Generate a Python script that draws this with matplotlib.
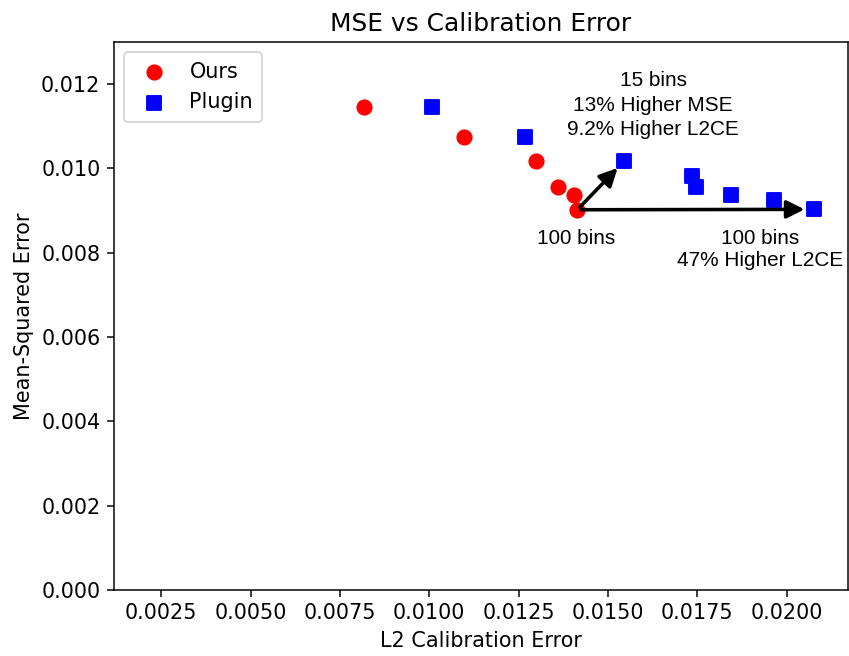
import numpy as np
import matplotlib.pyplot as plt

# L2 calibration error / MSE for each binning setting
ours_ce = [0.00816, 0.01097, 0.01299, 0.01360, 0.01406, 0.01414]
ours_mse = [0.01145, 0.01074, 0.01018, 0.00956, 0.00938, 0.00902]

plugin_ce = [0.01007, 0.01269, 0.01545, 0.01734, 0.01746, 0.01843, 0.01964, 0.02076]
plugin_mse = [0.01146, 0.01074, 0.01017, 0.00982, 0.00956, 0.00938, 0.00925, 0.00903]

plt.rcParams["font.size"] = 11.1

fig = plt.figure(figsize=(849 / 135, 656 / 135), dpi=135)
ax = fig.add_axes([0.1337, 0.1006, 0.8651, 0.8354])

ax.scatter(ours_ce, ours_mse, c="r", marker="o", s=58, label="Ours")
ax.scatter(plugin_ce, plugin_mse, c="b", marker="s", s=52, label="Plugin")

# arrows from our 100-bin point to plugin's 15-bin and 100-bin points
start = (ours_ce[-1], ours_mse[-1])
arrow = dict(arrowstyle="-|>", color="k", lw=1.9, mutation_scale=20,
             shrinkA=2, shrinkB=5)
ax.annotate("", xy=(plugin_ce[2], plugin_mse[2]), xytext=start, arrowprops=arrow)
ax.annotate("", xy=(plugin_ce[-1], plugin_mse[-1]), xytext=start, arrowprops=arrow)

txt = dict(fontsize=11.1, family="Liberation Sans", ha="center", va="center")
ax.text(0.01626, 0.0115, "15 bins\n13% Higher MSE\n9.2% Higher L2CE",
        linespacing=1.35, **txt)
ax.text(0.01412, 0.00835, "100 bins", **txt)
ax.text(0.01925, 0.00808, "100 bins\n47% Higher L2CE", linespacing=1.15, **txt)

ax.set_xlim(0.001165, 0.021713)
ax.set_ylim(0, 0.013)
ax.set_xticks(np.arange(0.0025, 0.0201, 0.0025))
ax.set_title("MSE vs Calibration Error", fontsize=13.3)
ax.set_xlabel("L2 Calibration Error")
ax.set_ylabel("Mean-Squared Error")
ax.legend(loc="upper left", borderpad=0.45, handletextpad=0.7)

fig.savefig("out.png", dpi=135)
